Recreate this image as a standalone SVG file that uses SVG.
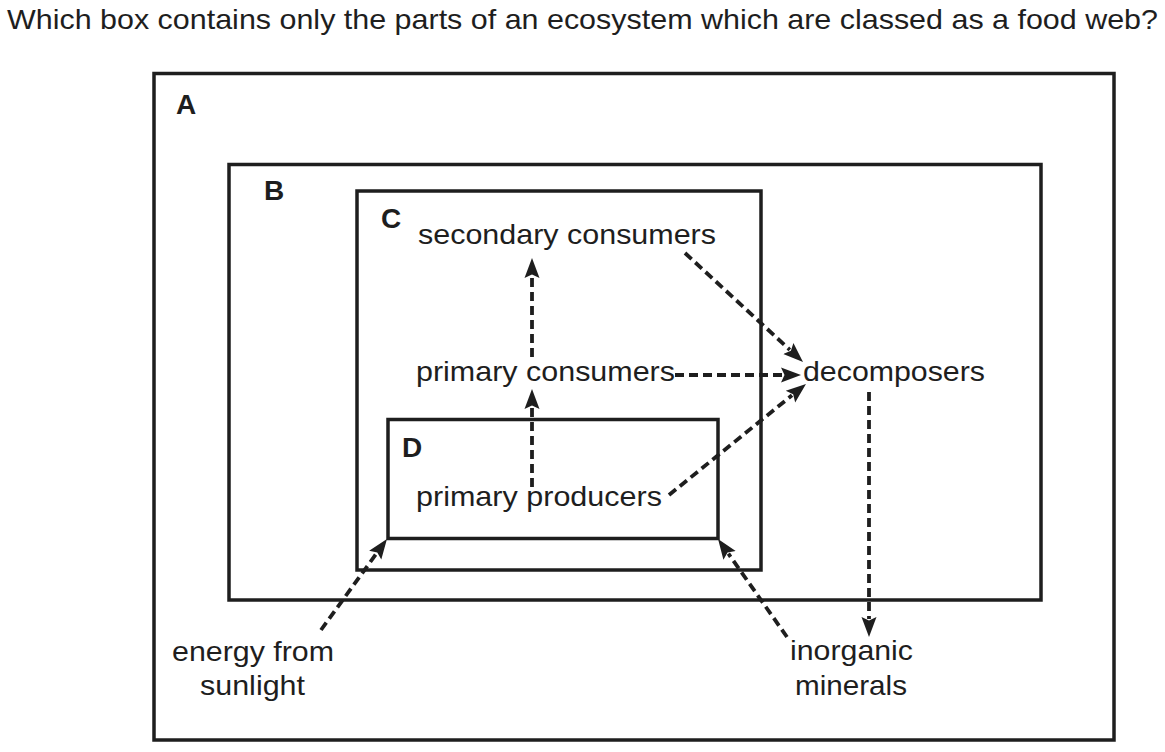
<svg xmlns="http://www.w3.org/2000/svg" width="1165" height="752" viewBox="0 0 1165 752">
<style>
.box{fill:none;stroke:#1e1e1e;stroke-width:3.5}
.t{font-family:"Liberation Sans",Arial,sans-serif;font-size:28px;fill:#1e1e1e}
.q{font-family:"Liberation Sans",Arial,sans-serif;font-size:28px;fill:#1e1e1e}
.lb{font-family:"Liberation Sans",Arial,sans-serif;font-size:28px;font-weight:bold;fill:#1e1e1e}
.ar{fill:none;stroke:#1e1e1e;stroke-width:3.8;stroke-dasharray:9 5;marker-end:url(#ah)}
</style>
<defs>
<marker id="ah" markerUnits="userSpaceOnUse" markerWidth="24" markerHeight="18" viewBox="0 -9 24 18" refX="2" refY="0" orient="auto">
<path d="M0,-7.5 L20,0 L0,7.5 L3.5,0 Z" fill="#1e1e1e"/>
</marker>
</defs>
<rect width="1165" height="752" fill="#fff"/>
<text class="q" x="7" y="29" textLength="1151" lengthAdjust="spacingAndGlyphs">Which box contains only the parts of an ecosystem which are classed as a food web?</text>
<g id="boxA"><rect class="box" x="154" y="73.5" width="960" height="666.5"/><text class="lb" x="176" y="114">A</text></g>
<g id="boxB"><rect class="box" x="229" y="164.5" width="812" height="435.5"/><text class="lb" x="264" y="200">B</text></g>
<g id="boxC"><rect class="box" x="357" y="191" width="404" height="379"/><text class="lb" x="381" y="228">C</text></g>
<g id="boxD"><rect class="box" x="388" y="419.5" width="330" height="119"/><text class="lb" x="402" y="457">D</text></g>
<g id="secondary-consumers"><text class="t" x="418" y="244" textLength="298" lengthAdjust="spacingAndGlyphs">secondary consumers</text></g>
<g id="primary-consumers"><text class="t" x="416" y="381" textLength="259" lengthAdjust="spacingAndGlyphs">primary consumers</text></g>
<g id="decomposers"><text class="t" x="803" y="381" textLength="182" lengthAdjust="spacingAndGlyphs">decomposers</text></g>
<g id="primary-producers"><text class="t" x="416" y="506" textLength="246" lengthAdjust="spacingAndGlyphs">primary producers</text></g>
<g id="energy"><text class="t" x="172" y="661" textLength="162" lengthAdjust="spacingAndGlyphs">energy from</text><text class="t" x="200" y="695" textLength="105" lengthAdjust="spacingAndGlyphs">sunlight</text></g>
<g id="minerals"><text class="t" x="790" y="660" textLength="123" lengthAdjust="spacingAndGlyphs">inorganic</text><text class="t" x="795" y="695" textLength="112" lengthAdjust="spacingAndGlyphs">minerals</text></g>
<g id="connectors">
<line class="ar" x1="532" y1="357" x2="532" y2="276"/>
<line class="ar" x1="532" y1="487" x2="532" y2="407"/>
<line class="ar" x1="685" y1="253" x2="789.8" y2="349.8"/>
<line class="ar" x1="675" y1="375" x2="783" y2="375"/>
<line class="ar" x1="669" y1="495" x2="792" y2="395.3"/>
<line class="ar" x1="869" y1="392" x2="869" y2="619"/>
<line class="ar" x1="321" y1="630" x2="376.4" y2="553.6"/>
<line class="ar" x1="787" y1="637" x2="728.4" y2="553.7"/>
</g>
</svg>
